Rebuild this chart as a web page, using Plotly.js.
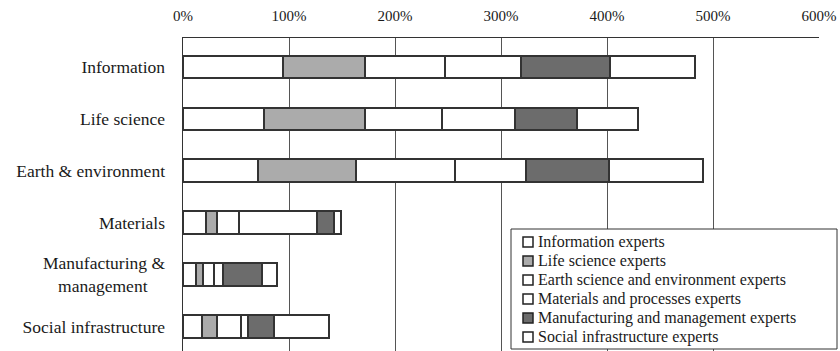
<!DOCTYPE html>
<html>
<head>
<meta charset="utf-8">
<script src="https://cdn.plot.ly/plotly-3.0.1.min.js"></script>
<style>html,body{margin:0;padding:0;background:#fff;}#chart{width:840px;height:351px;}</style>
</head>
<body>
<div id="chart"></div>
<script>
const categories = ['Information', 'Life science', 'Earth & environment', 'Materials', 'Manufacturing &<br>management\u00a0\u00a0\u00a0\u00a0', 'Social infrastructure'];
const seriesNames = ['Information experts', 'Life science experts', 'Earth science and environment experts', 'Materials and processes experts', 'Manufacturing and management experts', 'Social infrastructure experts'];
const infoExperts = [94, 76, 71, 22, 12.5, 18];
const lifeExperts = [78, 96, 92, 10, 6, 14];
const earthExperts = [75, 72, 94, 21, 11, 23];
const materialsExperts = [72, 69, 67, 73, 8, 6.5];
const manufExperts = [84, 59, 78, 16, 37, 24];
const socialExperts = [80, 57, 89, 7, 14, 52];
const tickVals = [0, 100, 200, 300, 400, 500, 600];
const tickText = ['0%', '100%', '200%', '300%', '400%', '500%', '600%'];

const values = [infoExperts, lifeExperts, earthExperts, materialsExperts, manufExperts, socialExperts];
const fills = ['#ffffff', '#ababab', '#ffffff', '#ffffff', '#6c6c6c', '#ffffff'];
const FONT = '"Liberation Serif", "Times New Roman", serif';

// plot area in pixels
const L = 183, R = 819, T = 38, B = 351;
const px = x => (x - L) / (R - L);
const py = y => (B - y) / (B - T);

const traces = values.map((v, i) => ({
  type: 'bar',
  orientation: 'h',
  name: seriesNames[i],
  y: categories,
  x: v,
  width: 0.44,
  marker: {color: fills[i], line: {color: '#333333', width: 2}},
  hoverinfo: 'x+name'
}));

// custom legend (box, swatches, labels)
const shapes = [{
  type: 'rect', xref: 'paper', yref: 'paper', layer: 'above',
  x0: px(511), x1: px(837), y0: py(349), y1: py(229),
  fillcolor: '#ffffff', line: {color: '#333333', width: 1}
}];
const annotations = [];
seriesNames.forEach((name, i) => {
  const cy = 242 + i * 19;
  shapes.push({
    type: 'rect', xref: 'paper', yref: 'paper', layer: 'above',
    x0: px(523), x1: px(533), y0: py(cy + 5), y1: py(cy - 5),
    fillcolor: fills[i], line: {color: '#222222', width: 1.5}
  });
  annotations.push({
    xref: 'paper', yref: 'paper', x: px(536), y: py(cy),
    xanchor: 'left', yanchor: 'middle', showarrow: false,
    text: name, font: {family: FONT, size: 16, color: '#1a1a1a'}
  });
});

const layout = {
  width: 840, height: 351,
  margin: {l: L, r: 840 - R, t: T, b: 351 - B, autoexpand: false},
  paper_bgcolor: '#ffffff', plot_bgcolor: '#ffffff',
  barmode: 'stack',
  showlegend: false,
  font: {family: FONT, color: '#1a1a1a'},
  xaxis: {
    side: 'top', range: [0, 600], tickvals: tickVals, ticktext: tickText,
    showgrid: true, gridcolor: '#555555', gridwidth: 1,
    zeroline: false, showline: true, linecolor: '#333333', linewidth: 1.5,
    ticks: '', ticklabelstandoff: 10,
    tickfont: {family: FONT, size: 15, color: '#1a1a1a'}
  },
  yaxis: {
    type: 'category', range: [5.47, -0.56],
    showgrid: false, zeroline: false, showline: true, linecolor: '#333333', linewidth: 1.5,
    ticks: '', ticklabelstandoff: 13,
    tickfont: {family: FONT, size: 17.5, color: '#1a1a1a'}
  },
  shapes: shapes,
  annotations: annotations
};

Plotly.newPlot('chart', traces, layout, {displayModeBar: false, staticPlot: true});
</script>
</body>
</html>
